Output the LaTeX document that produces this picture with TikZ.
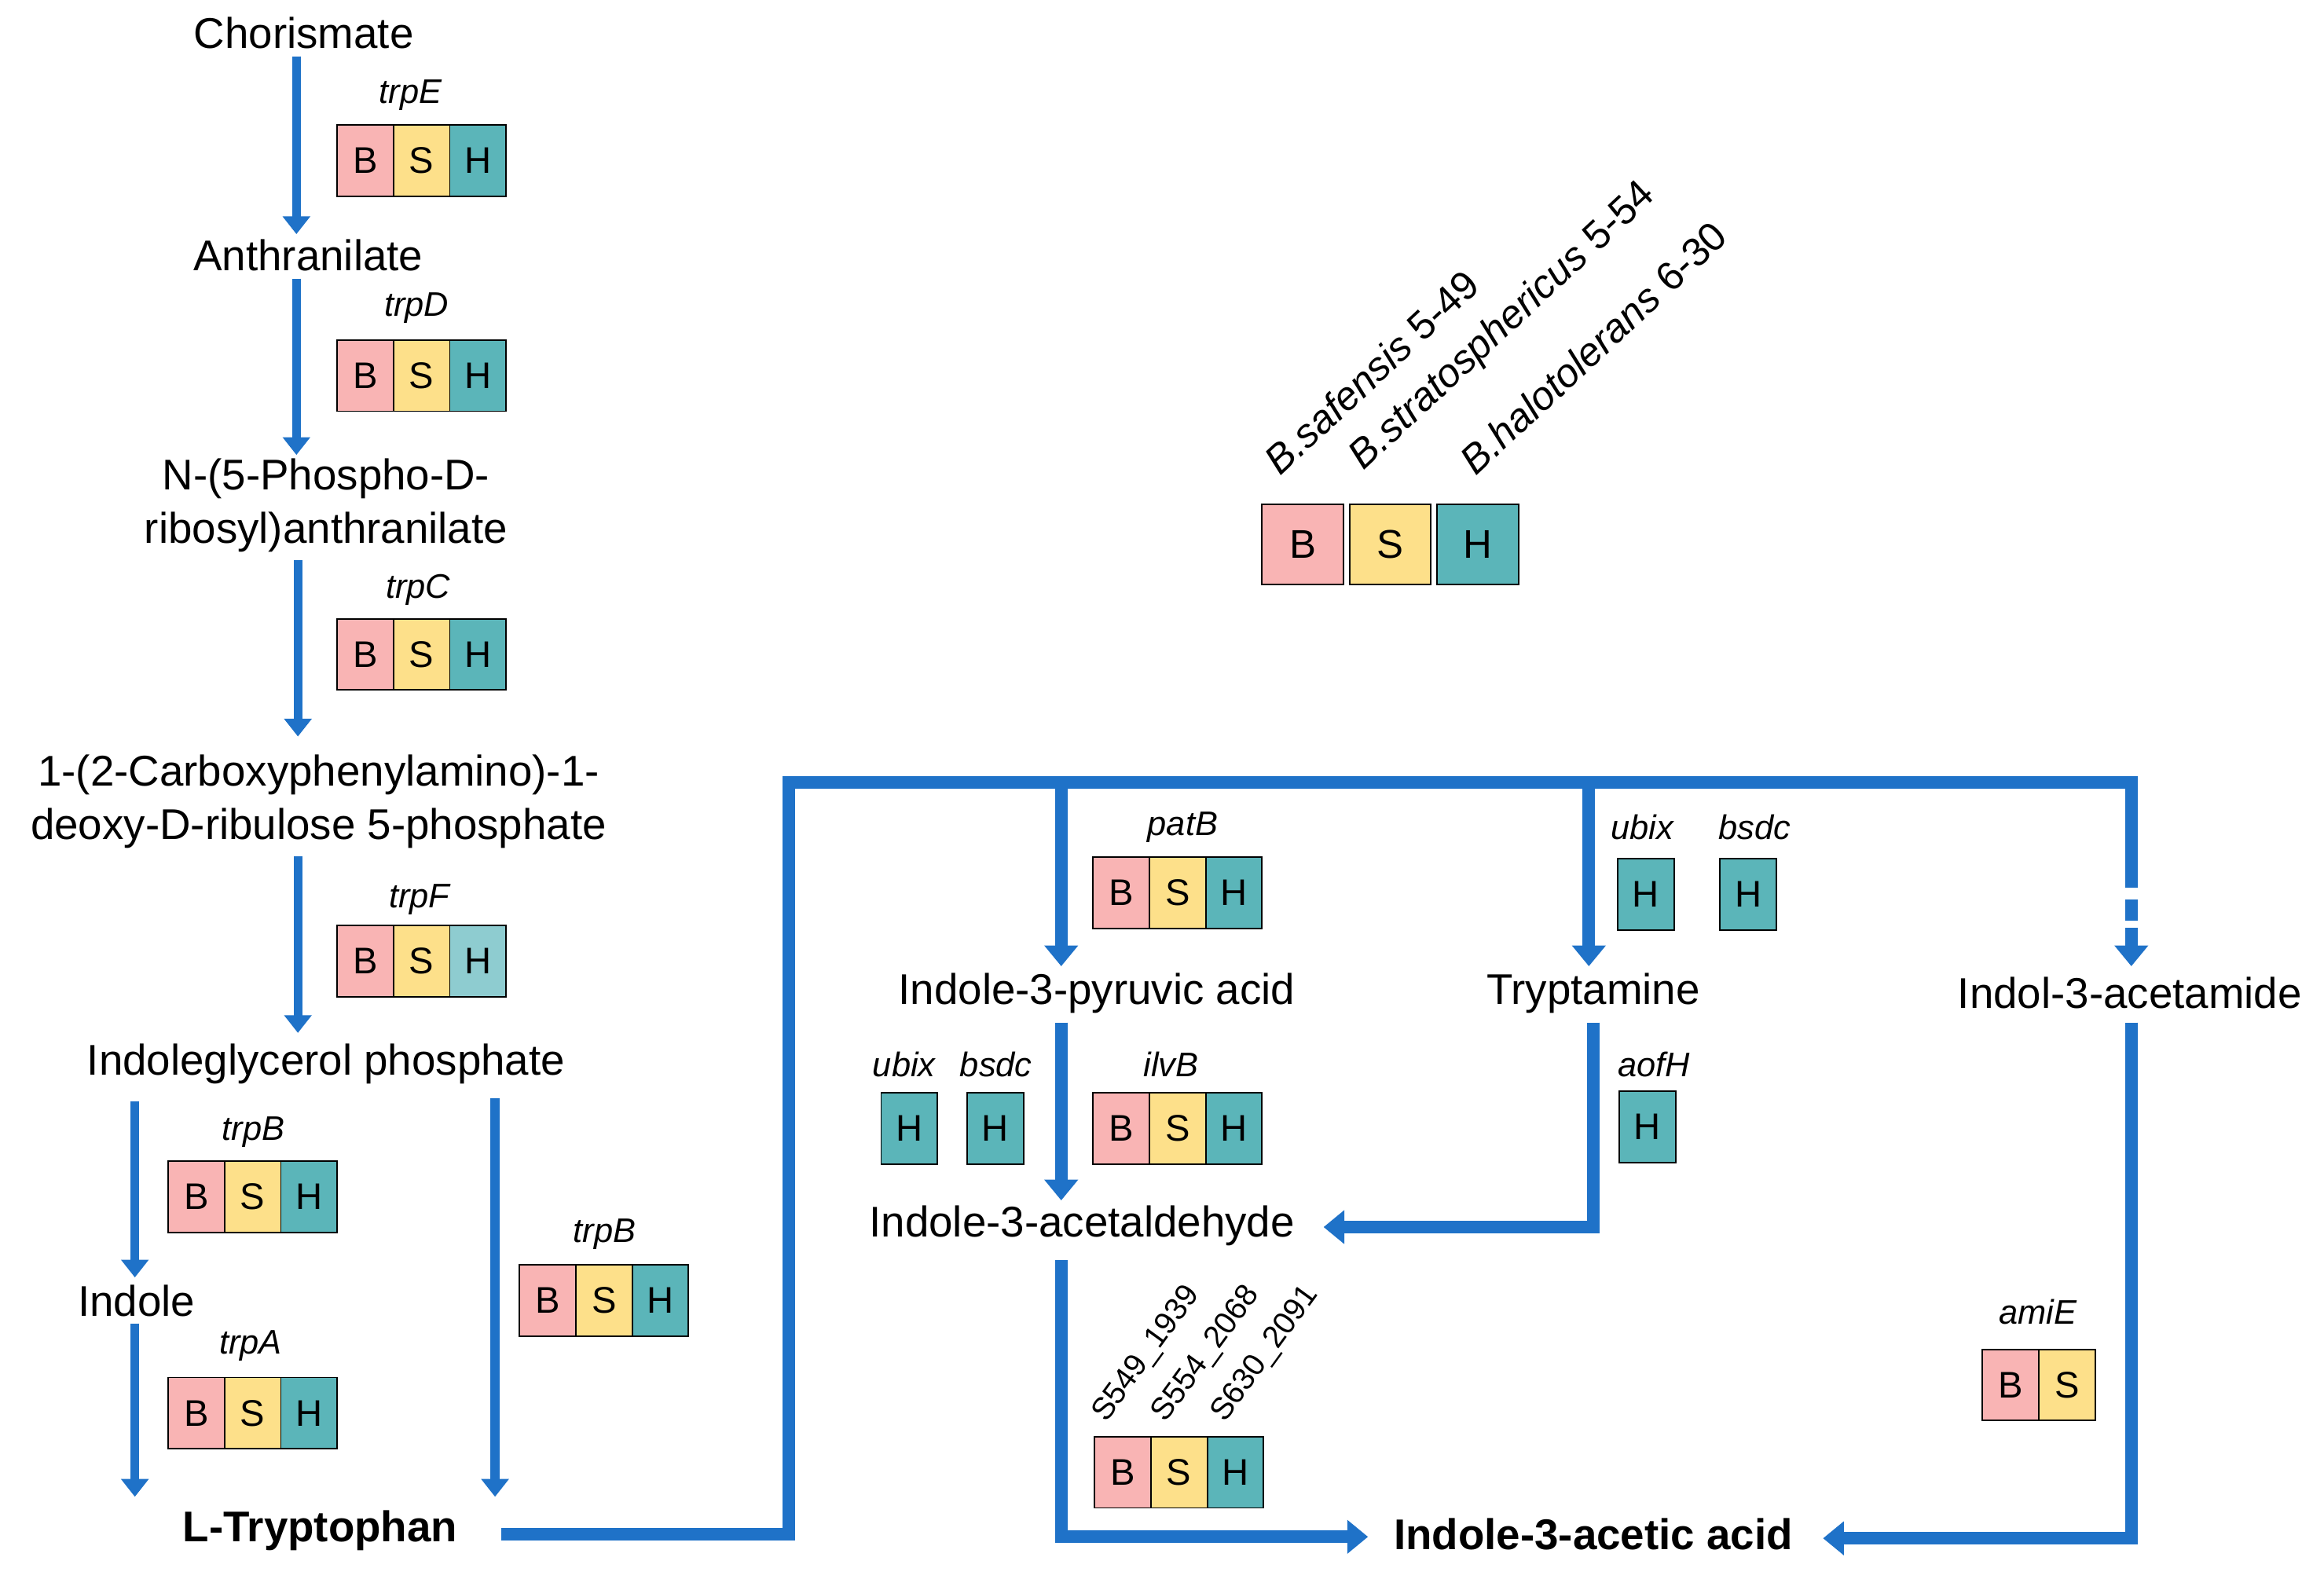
\documentclass[tikz,border=0pt]{standalone}
\usepackage{fontspec}
\setmainfont{Liberation Sans}
\usetikzlibrary{arrows.meta}
\definecolor{cb}{HTML}{F9B4B4}
\definecolor{cs}{HTML}{FDE08A}
\definecolor{ch}{HTML}{5BB5B9}
\definecolor{chl}{HTML}{8ECCD0}
\definecolor{ab}{HTML}{1F72C8}
\begin{document}
\begin{tikzpicture}[x=1pt,y=-1pt,
 met/.style={font=\fontsize{29}{36}\selectfont,align=center,inner sep=0},
 bmet/.style={met,font=\fontsize{29}{36}\selectfont\bfseries},
 gene/.style={font=\fontsize{23}{27}\selectfont\itshape,inner sep=0},
 arr/.style={ab,line width=6pt,-{Triangle[length=12pt,width=18pt]}},
 arrb/.style={ab,line width=8.5pt,-{Triangle[length=14pt,width=22pt]}},
 ln/.style={ab,line width=8.5pt},
 bx/.style={draw=black,line width=1pt,minimum width=38pt,minimum height=48pt,inner sep=0,font=\fontsize{25}{29}\selectfont,anchor=north west}]
\useasboundingbox (0,0) rectangle (1568,1065);
\newcommand{\bsh}[4]{% x y name colorH
 \node[bx,fill=cb] (#3b) at (#1,#2) {B};
 \node[bx,fill=cs] (#3s) at (#1+38,#2) {S};
 \node[bx,fill=#4] (#3h) at (#1+76,#2) {H};}
\newcommand{\hbx}[3]{\node[bx,fill=ch] (#3) at (#1,#2) {H};}
% metabolites
\node[met] (cho) at (205,22) {Chorismate};
\node[met] (ant) at (208,172) {Anthranilate};
\node[met] (npr) at (220,341) {N-(5-Phospho-D-\\ribosyl)anthranilate};
\node[met] (cpr) at (215,541) {1-(2-Carboxyphenylamino)-1-\\deoxy-D-ribulose 5-phosphate};
\node[met] (igp) at (220,718) {Indoleglycerol phosphate};
\node[met] (ind) at (92,878) {Indole};
\node[bmet] (trp) at (216,1033) {L-Tryptophan};
\node[met] (ipa) at (740,670) {Indole-3-pyruvic acid};
\node[met] (tra) at (1075,670) {Tryptamine};
\node[met] (iam) at (1437,670) {Indol-3-acetamide};
\node[met] (iad) at (730,827) {Indole-3-acetaldehyde};
\node[bmet] (iaa) at (1075,1035) {Indole-3-acetic acid};
% genes
\node[gene] (g1) at (277,64) {trpE}; \bsh{227}{84}{e}{ch}
\node[gene] (g2) at (281,208) {trpD}; \bsh{227}{229}{d}{ch}
\node[gene] (g3) at (282,398) {trpC}; \bsh{227}{417}{c}{ch}
\node[gene] (g4) at (283,607) {trpF}; \bsh{227}{624}{f}{chl}
\node[gene] (g5) at (171,764) {trpB}; \bsh{113}{783}{b1}{ch}
\node[gene] (g6) at (169,908) {trpA}; \bsh{113}{929}{a}{ch}
\node[gene] (g7) at (408,833) {trpB}; \bsh{350}{853}{b2}{ch}
\node[gene] (g8) at (798,558) {patB}; \bsh{737}{578}{p}{ch}
\node[gene] (g9) at (1108,558) {ubix}; \hbx{1091}{579}{u1}
\node[gene] (g10) at (1184,558) {bsdc}; \hbx{1160}{579}{bs1}
\node[gene] (g11) at (610,718) {ubix}; \hbx{594}{737}{u2}
\node[gene] (g12) at (672,718) {bsdc}; \hbx{652}{737}{bs2}
\node[gene] (g13) at (790,718) {ilvB}; \bsh{737}{737}{i}{ch}
\node[gene] (g14) at (1116,718) {aofH}; \hbx{1092}{736}{ao}
\node[gene] (g15) at (1375,885) {amiE};
\node[bx,fill=cb] (amb) at (1337,910) {B};
\node[bx,fill=cs] (ams) at (1375,910) {S};
\bsh{738}{969}{x}{ch}
\node[font=\fontsize{21}{25}\selectfont,rotate=54,anchor=south west,inner sep=0] (s1) at (750,963) {S549\_1939};
\node[font=\fontsize{21}{25}\selectfont,rotate=54,anchor=south west,inner sep=0] (s2) at (790,963) {S554\_2068};
\node[font=\fontsize{21}{25}\selectfont,rotate=54,anchor=south west,inner sep=0] (s3) at (830,963) {S630\_2091};
% legend
\node[bx,fill=cb,minimum width=55pt,minimum height=54pt,font=\fontsize{27}{32}\selectfont] (lb) at (851,340) {B};
\node[bx,fill=cs,minimum width=55pt,minimum height=54pt,font=\fontsize{27}{32}\selectfont] (ls) at (910,340) {S};
\node[bx,fill=ch,minimum width=55pt,minimum height=54pt,font=\fontsize{27}{32}\selectfont] (lh) at (969,340) {H};
\node[font=\fontsize{27}{32}\selectfont,rotate=43,anchor=south west,inner sep=0] (l1) at (864,322) {\textit{B.safensis} 5-49};
\node[font=\fontsize{27}{32}\selectfont,rotate=43,anchor=south west,inner sep=0] (l2) at (924,322) {\textit{B.stratosphericus} 5-54};
\node[font=\fontsize{27}{32}\selectfont,rotate=43,anchor=south west,inner sep=0] (l3) at (996,322) {\textit{B.halotolerans} 6-30};
% arrows left
\draw[arr] (200,38) -- (200,158);
\draw[arr] (200,188) -- (200,307);
\draw[arr] (201,378) -- (201,497);
\draw[arr] (201,578) -- (201,697);
\draw[arr] (91,743) -- (91,862);
\draw[arr] (91,893) -- (91,1010);
\draw[arr] (334,741) -- (334,1010);
% right network
\coordinate (c1) at (532,528);
\coordinate (c2) at (1438,528);
\draw[ln,line join=miter] (338,1035) -- (532,1035) -- (c1) -- (c2) -- (1438,585);
\draw[ln,dashed,dash pattern=on 14pt off 8pt] (1438,585) -- (1438,628);
\draw[arrb] (1438,626) -- (1438,652);
\draw[arrb] (716,528) -- (716,652);
\draw[arrb] (1072,528) -- (1072,652);
\draw[arrb] (716,690) -- (716,810);
\draw[arrb,line join=miter] (1075,690) -- (1075,828) -- (893,828);
\draw[arrb,line join=miter] (716,850) -- (716,1037) -- (923,1037);
\draw[arrb,line join=miter] (1438,690) -- (1438,1038) -- (1230,1038);
\end{tikzpicture}
\end{document}
